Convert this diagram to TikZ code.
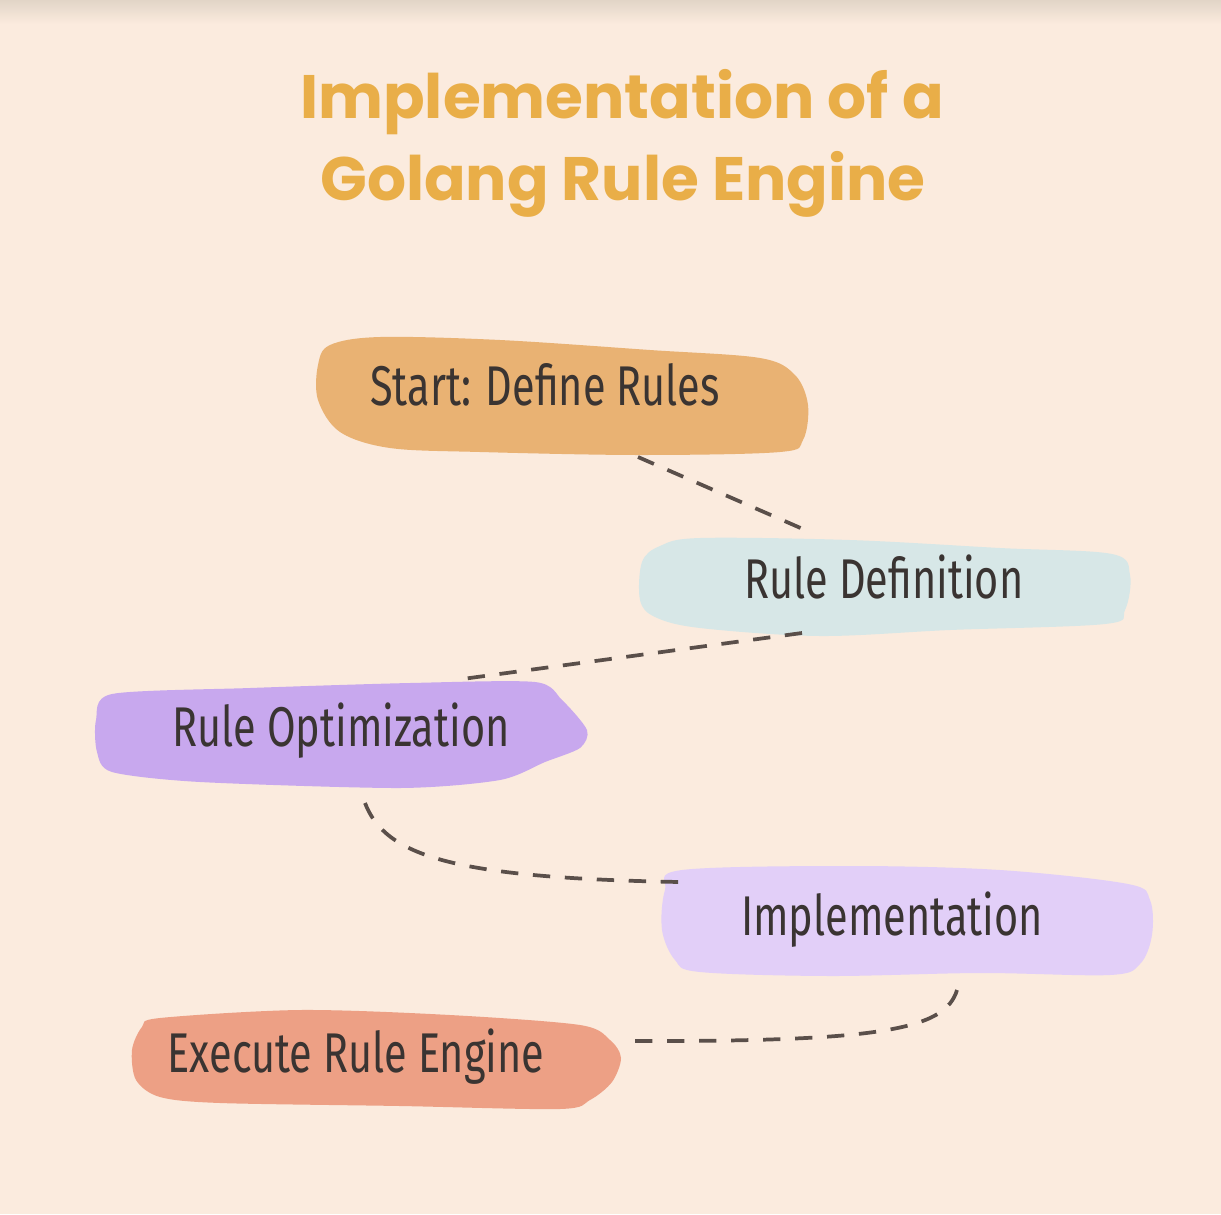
\documentclass[tikz,border=0pt]{standalone}
\usepackage{fontspec}
\newfontfamily\titlefont{Poppins}
\newfontfamily\handfont[FakeStretch=0.74]{Fira Sans}
\definecolor{bgc}{RGB}{251,235,222}
\definecolor{topc}{RGB}{226,213,199}
\definecolor{titlec}{RGB}{233,174,72}
\definecolor{txtc}{RGB}{58,52,50}
\definecolor{linec}{RGB}{90,79,74}
\definecolor{orangeb}{RGB}{233,178,115}
\definecolor{blueb}{RGB}{215,231,231}
\definecolor{purpleb}{RGB}{200,168,238}
\definecolor{lilacb}{RGB}{226,207,248}
\definecolor{salmonb}{RGB}{237,160,133}
\tikzset{
  blob/.style={draw=none},
  label/.style={font=\handfont\fontsize{42}{46}\selectfont, text=txtc, anchor=base, inner sep=0pt},
  titletext/.style={font=\titlefont\bfseries\fontsize{46}{50}\selectfont, text=titlec, anchor=base, inner sep=0pt},
  conn/.style={draw=linec, line width=2.8pt, dash pattern=on 13pt off 11pt}
}
\begin{document}
\begin{tikzpicture}[x=0.75pt,y=-0.75pt]
\fill[bgc] (0,0) rectangle (1221,1214);
\useasboundingbox (0,0) rectangle (1221,1214);
\shade[top color=topc, bottom color=bgc] (0,0) rectangle (1221,24);

% title
\node[titletext] (t1) at (622,118) {Implementation of a};
\node[titletext] (t2) at (623,200) {Golang Rule Engine};

% blobs
\fill[orangeb] plot[smooth cycle, tension=0.55] coordinates {(330,345) (380,337) (500,340) (650,350) (760,358) (795,375) (808,405) (803,440) (780,452) (640,455) (480,452) (390,448) (340,432) (318,400) (318,365)};
\fill[blueb] plot[smooth cycle, tension=0.55] coordinates {(660,546) (700,538) (850,540) (1000,548) (1112,554) (1130,575) (1125,610) (1105,624) (950,630) (820,636) (700,628) (655,617) (640,600) (642,562)};
\fill[purpleb] plot[smooth cycle, tension=0.45] coordinates {(112,694) (250,688) (410,683) (535,682) (562,700) (587,730) (580,748) (545,762) (500,780) (400,788) (200,782) (112,772) (97,752) (96,720)};
\fill[lilacb] plot[smooth cycle, tension=0.55] coordinates {(682,870) (850,866) (1000,870) (1128,884) (1150,900) (1152,935) (1140,964) (1110,975) (980,973) (830,976) (700,972) (675,960) (662,930) (665,890)};
\fill[salmonb] plot[smooth cycle, tension=0.5] coordinates {(160,1018) (300,1010) (450,1015) (580,1025) (610,1040) (621,1058) (612,1082) (590,1100) (560,1109) (400,1106) (220,1103) (160,1097) (136,1080) (132,1050) (142,1027)};

% labels
\node[label] (n1) at (545,405) {Start: Define Rules};
\node[label] (n2) at (884,598) {Rule Definition};
\node[label] (n3) at (341,746) {Rule Optimization};
\node[label] (n4) at (892,935) {Implementation};
\node[label] (n5) at (356,1072) {Execute Rule Engine};

% connector end points
\coordinate (c1a) at (638,457);
\coordinate (c1b) at (812,533);
\coordinate (c2a) at (802,633);
\coordinate (c2b) at (455,680);
\coordinate (c3a) at (365,803);
\coordinate (c3b) at (680,882);
\coordinate (c4a) at (957,990);
\coordinate (c4b) at (622,1041);

\draw[conn] (c1a) -- (c1b);
\draw[conn] (c2a) -- (c2b);
\draw[conn] (c3a) .. controls (385,855) and (450,878) .. (c3b);
\draw[conn] (c4a) .. controls (945,1030) and (880,1042) .. (c4b);
\end{tikzpicture}
\end{document}
